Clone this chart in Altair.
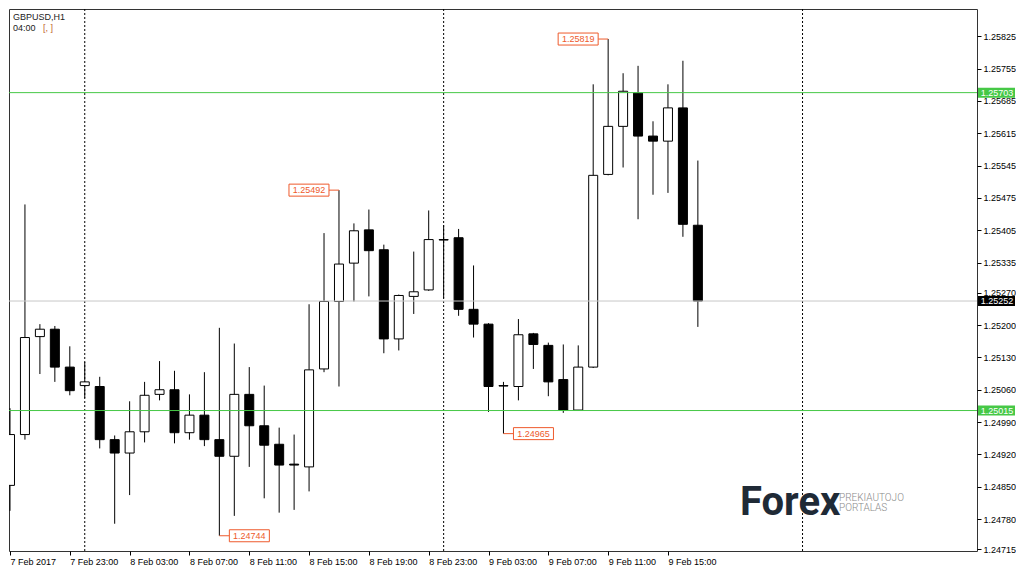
import pandas as pd
import altair as alt

# GBPUSD H1 candles, first bar 7 Feb 2017 19:00, one bar per hour
opens = [1.24853, 1.24963, 1.25175, 1.25191, 1.25109, 1.25069, 1.25067, 1.24952, 1.24923, 1.24969,
         1.25050, 1.25060, 1.24967, 1.25005, 1.24952, 1.24916, 1.25050, 1.24982, 1.24942, 1.24899,
         1.24893, 1.25105, 1.25251, 1.25334, 1.25406, 1.25363, 1.25170, 1.25262, 1.25276, 1.25385,
         1.25389, 1.25234, 1.25202, 1.25069, 1.25067, 1.25181, 1.25156, 1.25082, 1.25016, 1.25109,
         1.25526, 1.25630, 1.25702, 1.25609, 1.25598, 1.25670, 1.25416]
highs = [1.25020, 1.25461, 1.25202, 1.25198, 1.25154, 1.25120, 1.25088, 1.24961, 1.25035, 1.25077,
         1.25122, 1.25101, 1.25050, 1.25098, 1.25194, 1.25160, 1.25109, 1.25069, 1.24978, 1.24963,
         1.25245, 1.25399, 1.25492, 1.25420, 1.25450, 1.25374, 1.25266, 1.25359, 1.25448, 1.25416,
         1.25408, 1.25329, 1.25204, 1.25077, 1.25213, 1.25183, 1.25162, 1.25158, 1.25156, 1.25721,
         1.25819, 1.25745, 1.25761, 1.25641, 1.25721, 1.25772, 1.25556]
lows = [1.24798, 1.24952, 1.25094, 1.25077, 1.25048, 1.25042, 1.24933, 1.24770, 1.24832, 1.24946,
        1.25037, 1.24944, 1.24952, 1.24938, 1.24744, 1.24787, 1.24893, 1.24825, 1.24794, 1.24800,
        1.24840, 1.25098, 1.25067, 1.25251, 1.25262, 1.25139, 1.25145, 1.25224, 1.25274, 1.25258,
        1.25220, 1.25173, 1.25012, 1.24965, 1.25037, 1.25105, 1.25046, 1.25010, 1.25015, 1.25107,
        1.25524, 1.25541, 1.25429, 1.25482, 1.25486, 1.25391, 1.25196]
closes = [1.24963, 1.25173, 1.25191, 1.25109, 1.25058, 1.25077, 1.24952, 1.24923, 1.24969, 1.25048,
          1.25060, 1.24967, 1.25005, 1.24952, 1.24916, 1.25050, 1.24982, 1.24940, 1.24897, 1.24897,
          1.25103, 1.25251, 1.25332, 1.25404, 1.25361, 1.25170, 1.25264, 1.25272, 1.25385, 1.25384,
          1.25234, 1.25202, 1.25067, 1.25068, 1.25179, 1.25158, 1.25077, 1.25016, 1.25109, 1.25524,
          1.25630, 1.25706, 1.25609, 1.25598, 1.25670, 1.25418, 1.25252]

# horizontal levels and day separators
levels = [1.25703, 1.25015]
day_starts = ["2017-02-08 00:00", "2017-02-09 00:00", "2017-02-10 00:00"]

# price labels: bar index + price
high_marks_idx = [22, 40]
high_marks = [1.25492, 1.25819]
low_marks_idx = [14, 33]
low_marks = [1.24744, 1.24965]

y_ticks = [1.25825, 1.25755, 1.25685, 1.25615, 1.25545, 1.25475, 1.25405, 1.25335, 1.25270,
           1.25200, 1.25130, 1.25060, 1.24990, 1.24920, 1.24850, 1.24780, 1.24715]

W, H = 968, 542
FONT = "Liberation Sans"
ORANGE = "#ee5a2c"
GREEN = "#46c846"


def ms(ts):
    return pd.to_datetime(ts).value // 10**6


times = pd.date_range("2017-02-07 19:00", periods=len(opens), freq="h")
df = pd.DataFrame({
    "t": [ms(t) for t in times],
    "open": opens, "high": highs, "low": lows, "close": closes,
})

x_ticks = [ms(t) for t in times[::4]]
x_scale = alt.Scale(type="utc", domain=[ms("2017-02-07 18:56"), ms("2017-02-10 11:40")], padding=0)
y_scale = alt.Scale(domain=[1.24711, 1.25884], zero=False, nice=False, padding=0)

x_axis = alt.Axis(
    values=x_ticks,
    labelExpr="utcFormat(datum.value, '%d%H') == '0719' ? utcFormat(datum.value, '%-d %b %Y')"
              " : utcFormat(datum.value, '%-d %b %H:%M')",
    labelAlign="left", labelPadding=2, labelFlush=False, labelOverlap=False,
    tickSize=4, tickColor="black", domain=False, grid=False, title=None,
    labelFont=FONT, labelFontSize=9, labelColor="black",
)
y_axis = alt.Axis(
    orient="right", values=y_ticks, format=".5f",
    labelPadding=2, labelFlush=False, labelOverlap=False,
    tickSize=4, tickColor="black", domain=False, grid=False, title=None,
    labelFont=FONT, labelFontSize=9, labelColor="black",
)


def X(field="t"):
    return alt.X(f"{field}:T", scale=x_scale, axis=x_axis)


def Y(field):
    return alt.Y(f"{field}:Q", scale=y_scale, axis=y_axis)


base = alt.Chart(df)

separators = alt.Chart(pd.DataFrame({"t": [ms(d) for d in day_starts]})).mark_rule(
    color="black", strokeWidth=1, strokeDash=[2, 2]
).encode(x=X())

wicks = base.mark_rule(color="black", strokeWidth=1, clip=True).encode(
    x=X(), y=Y("low"), y2="high:Q"
)
bodies = base.mark_bar(size=9, stroke="black", strokeWidth=1, clip=True).encode(
    x=X(), y=Y("open"), y2="close:Q",
    fill=alt.when(alt.datum.close >= alt.datum.open).then(alt.value("white")).otherwise(alt.value("black")),
)

lv = pd.DataFrame({"price": levels})
green_lines = alt.Chart(lv).mark_rule(color=GREEN, strokeWidth=1).encode(y=Y("price"))
last = pd.DataFrame({"price": [closes[-1]]})
last_line = alt.Chart(last).mark_rule(color="#c8c8c8", strokeWidth=1).encode(y=Y("price"))


def tag(data, fill, text_color):
    box = alt.Chart(data).mark_rect(color=fill, yOffset=-5, y2Offset=5).encode(
        x=alt.value(W + 1), x2=alt.value(W + 38), y=Y("price"), y2="price:Q"
    )
    txt = alt.Chart(data).mark_text(
        color=text_color, font=FONT, fontSize=9, align="center", baseline="middle"
    ).encode(x=alt.value(W + 20), y=Y("price"), text=alt.Text("price:Q", format=".5f"))
    return box + txt


def price_marks(idx, prices, side):
    d = pd.DataFrame({"t": [df["t"][i] for i in idx], "price": prices})
    c = alt.Chart(d)
    lead = c.mark_rule(color=ORANGE, strokeWidth=1, x2Offset=10 * side).encode(
        x=X(), x2="t:T", y=Y("price")
    )
    box = c.mark_point(
        shape="M-1,-0.3H1V0.3H-1Z", size=1600, filled=True, fill="white",
        stroke=ORANGE, strokeWidth=1, opacity=1, xOffset=30 * side
    ).encode(x=X(), y=Y("price"))
    txt = c.mark_text(
        color=ORANGE, font=FONT, fontSize=9, align="center", baseline="middle", dx=30 * side
    ).encode(x=X(), y=Y("price"), text=alt.Text("price:Q", format=".5f"))
    return lead + box + txt


def label(text, x, y, **kw):
    return alt.Chart(pd.DataFrame({"s": [text]})).mark_text(align="left", **kw).encode(
        x=alt.value(x), y=alt.value(y), text="s:N"
    )


header = (
    label("GBPUSD,H1", 4, 8, font=FONT, fontSize=9, color="#222", baseline="middle")
    + label("04:00", 4, 19, font=FONT, fontSize=9, color="#222", baseline="middle")
    + label("[, ]", 34, 19, font=FONT, fontSize=9, color="#c0622e", baseline="middle")
)
logo = (
    label("Forex", 731, 506, font="Roboto", fontSize=40, fontWeight="bold", color="#1f2a36",
          baseline="alphabetic")
    + label("PREKIAUTOJO", 830, 492, font="Roboto", fontSize=10, fontWeight=300, color="#8a8a8a",
            baseline="alphabetic")
    + label("PORTALAS", 830, 502, font="Roboto", fontSize=10, fontWeight=300, color="#8a8a8a",
            baseline="alphabetic")
)

chart = alt.layer(
    separators,
    logo,
    wicks,
    bodies,
    green_lines,
    last_line,
    price_marks(high_marks_idx, high_marks, -1),
    price_marks(low_marks_idx, low_marks, 1),
    tag(lv, GREEN, "white"),
    tag(last, "black", "white"),
    header,
).properties(
    width=W, height=H, padding=0, background="white"
).configure_view(stroke="#333", strokeWidth=1)

chart.save("out.html", embed_options={"renderer": "svg", "actions": False})
